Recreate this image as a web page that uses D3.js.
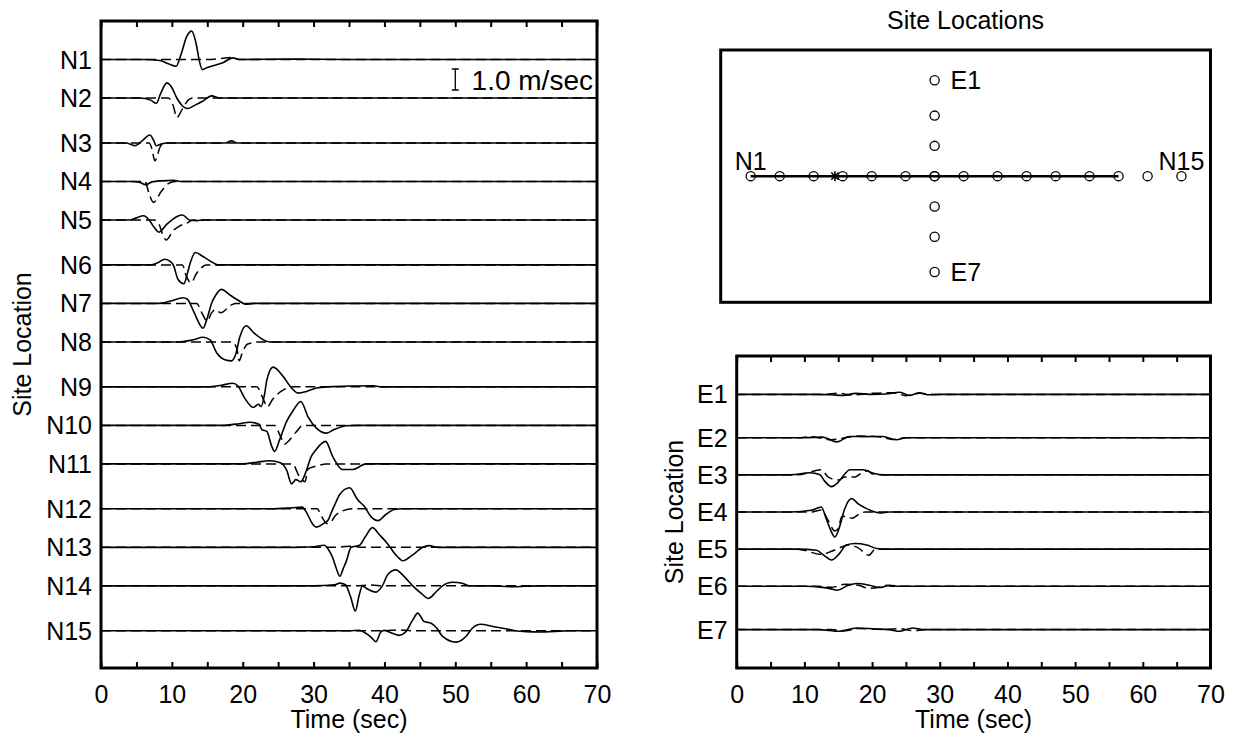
<!DOCTYPE html>
<html>
<head>
<meta charset="utf-8">
<script src="https://cdn.jsdelivr.net/npm/d3@7"></script>
<style>
  html, body { margin: 0; padding: 0; background: #fff; }
  svg { display: block; }
  text { font-family: "Liberation Sans", Arial, Helvetica, sans-serif; fill: #000; }
</style>
</head>
<body>
<svg id="chart" width="1239" height="738"></svg>
<script>
// ---- Sites -------------------------------------------------------------
const nSites = ["N1","N2","N3","N4","N5","N6","N7","N8","N9","N10","N11","N12","N13","N14","N15"];
// distance along the N line (km)
const nSiteKm = [0, 3, 6.5, 9.5, 12.5, 16, 19, 22, 25.5, 28.5, 31.5, 35, 38, 41, 44.5];
const eSites = ["E1","E2","E3","E4","E5","E6","E7"];
// offset of the E line across the N line (km), crossing at N7
const eSiteKm = [9.5, 6, 3, 0, -3, -6, -9.5];
const eLineAtKm = 19;
const epicenterKm = [8.7, 0];
const profileEndKm = 38;

// ---- Axis ticks ------------------------------------------------------------
const timeTickMarks = [0,5,10,15,20,25,30,35,40,45,50,55,60,65,70];
const timeTickLabels = [0,10,20,30,40,50,60,70];
const scaleBarValue = 1.0;   // m/sec

// ---- Velocity records: [time (sec), velocity (m/sec)] -------------------------
const nObserved = [
  [[0,0],[6,0],[8.3,-0.05],[9.5,-0.2],[10.6,-0.32],[11.3,0.25],[12.1,1.1],[12.8,1.35],[13.4,0.8],[13.9,-0.1],[14.3,-0.48],[15,-0.38],[15.8,-0.3],[17.2,-0.15],[18.6,0.08],[19.6,0],[27,0.02],[35,0],[70,0]],
  [[0,0],[5.5,0],[7,-0.1],[7.8,-0.25],[8.4,0.2],[9.3,0.72],[9.9,0.55],[10.7,0],[11.5,-0.38],[12.2,-0.5],[13.2,-0.35],[14.4,-0.14],[15.6,0.1],[16.8,0],[70,0]],
  [[0,0],[3.5,0],[4.8,-0.13],[5.8,0.1],[6.9,0.38],[7.4,0.15],[7.8,-0.13],[8.5,-0.05],[9.3,0],[17.5,0],[18.4,0.1],[19.2,0],[70,0]],
  [[0,0],[4.5,0],[5.5,-0.05],[6.3,-0.15],[7.2,-0.02],[8.5,0.03],[10.2,0.05],[11.5,0],[70,0]],
  [[0,0],[4,0],[5,0.1],[6,0.2],[6.8,0],[7.5,-0.35],[8.2,-0.58],[8.8,-0.4],[9.3,-0.2],[10,0],[10.8,0.18],[11.5,0.24],[12.5,0],[13.5,-0.03],[14.5,0],[70,0]],
  [[0,0],[7,0],[8,0.1],[9,0.27],[9.6,0.2],[10.2,0],[10.9,-0.71],[11.7,-0.9],[12.2,-0.4],[12.6,0.1],[13.3,0.59],[14.4,0.4],[15.8,0.11],[16.5,0],[70,0]],
  [[0,0],[8,0],[9.7,0.1],[11.6,0.27],[12.2,0.2],[13.1,-0.4],[14.4,-1.18],[14.9,-0.8],[15.6,0],[16.2,0.4],[17,0.67],[18.2,0.4],[19.3,0.16],[20.5,-0.04],[21.5,0],[70,0]],
  [[0,0],[11,0],[13,0.1],[14.4,0.22],[15.4,0.1],[16.3,-0.5],[17.6,-0.86],[18.4,-0.9],[19,-0.6],[19.6,0.25],[20.5,0.77],[21.5,0.45],[22.9,0.1],[23.8,0],[70,0]],
  [[0,0],[15,0],[17,0.08],[18.6,0.17],[19.3,0.05],[20.3,-0.55],[21.5,-0.98],[22.2,-0.83],[22.6,-0.94],[23.1,-0.32],[23.4,0.32],[24.3,0.94],[25.7,0.5],[26.9,-0.06],[27.8,-0.3],[29,-0.22],[30.4,-0.05],[31.8,0],[38.4,0.05],[39.5,0],[70,0]],
  [[0,0],[17,0],[19.5,0.08],[21,0.15],[22.3,0.05],[22.7,-0.2],[23.4,-0.29],[24.1,-1.0],[24.5,-1.24],[25.2,-0.69],[26.2,0.19],[27.1,0.7],[28.2,1.14],[29.2,0.42],[30.4,-0.13],[31.8,-0.37],[32.9,-0.2],[34.6,-0.02],[36,0],[70,0]],
  [[0,0],[20,0],[22,0.08],[23.8,0.15],[25.3,0.05],[26.2,-0.3],[26.9,-0.95],[27.5,-0.75],[28.2,-0.85],[28.9,-0.4],[29.6,0.3],[30.4,0.7],[31.7,1.07],[32.7,0.35],[34.1,-0.27],[35.5,-0.27],[37.4,0],[70,0]],
  [[0,0],[24,0],[27,0.05],[28.4,0.08],[29.2,-0.3],[29.9,-0.75],[30.4,-0.87],[31.5,-0.68],[32.1,-0.51],[32.6,-0.1],[33,0.2],[33.7,0.68],[35.1,1.0],[36.2,0.44],[37.2,0.1],[38.1,-0.37],[39.1,-0.56],[40.2,-0.27],[41.4,-0.03],[42.5,0],[70,0]],
  [[0,0],[27,0],[30,0.03],[31.5,0.1],[32.1,-0.1],[32.7,-0.5],[33.2,-1.0],[33.7,-1.38],[34.2,-1.0],[34.6,-0.68],[35.3,0],[36.5,0.1],[37.3,0.5],[38.3,0.94],[39.3,0.6],[40.5,0.15],[41.6,-0.36],[42.6,-0.64],[44,-0.36],[45.4,0],[46.3,0.08],[47.5,0],[70,0]],
  [[0,0],[30,0],[33,0.05],[33.7,0.13],[34.5,0.05],[35.2,-0.5],[35.9,-1.2],[36.4,-0.5],[36.9,0],[37.6,-0.15],[38.8,-0.3],[39.7,0],[40.5,0.55],[41.6,0.76],[42.8,0.44],[44,0],[45.2,-0.36],[46.2,-0.6],[47.3,-0.28],[48.2,0],[49.6,0.17],[51,0.12],[52,0],[55,0],[58,-0.04],[62,0],[70,0]],
  [[0,0],[35,0],[36.5,0.02],[37.5,-0.15],[38.1,-0.3],[38.8,-0.52],[39.5,-0.05],[40,0.02],[41.1,-0.12],[42.1,-0.22],[43,-0.05],[44,0.52],[44.7,0.84],[45.6,0.44],[46.6,0.36],[47.4,0.12],[48.2,-0.27],[50.1,-0.54],[51.5,-0.27],[52.4,0.12],[53.6,0.31],[55.3,0.2],[57.1,0.1],[58.5,0],[60,-0.04],[62,-0.06],[64,-0.03],[66,0],[70,0]]
];

const nSynthetic = [
  [[0,0],[15,0],[17,0.05],[18.5,0.1],[19.5,0],[70,0]],
  [[0,0],[9.5,0],[10.2,-0.37],[10.7,-0.93],[11.4,-0.58],[12.3,-0.1],[13,0],[70,0]],
  [[0,0],[6.8,0],[7.2,-0.3],[7.6,-0.85],[8.4,-0.15],[9,0],[70,0]],
  [[0,0],[6.2,0],[6.8,-0.6],[7.4,-1.0],[8.5,-0.48],[9.5,-0.1],[10.5,0],[70,0]],
  [[0,0],[7.5,0],[8.2,-0.2],[8.6,-0.6],[9.2,-0.95],[10.2,-0.5],[11,-0.3],[12.1,-0.15],[13,0],[70,0]],
  [[0,0],[11.5,0],[12,-0.5],[12.7,-0.85],[13.5,-0.4],[14,-0.2],[14.8,0],[70,0]],
  [[0,0],[13.5,0],[14.3,-0.5],[15,-0.85],[15.6,-0.45],[16.2,-0.3],[16.9,-0.45],[18.4,-0.07],[19,0],[70,0]],
  [[0,0],[18.5,0],[19.2,-0.35],[19.5,-0.9],[19.9,-0.55],[20.7,-0.1],[22.4,0],[70,0]],
  [[0,0],[22,0],[22.8,-0.5],[23.5,-0.95],[24.2,-0.6],[25.4,-0.22],[27.1,0],[70,0]],
  [[0,0],[24.5,0],[25.3,-0.5],[25.9,-0.9],[26.4,-0.77],[27.6,-0.29],[28.5,0],[70,0]],
  [[0,0],[27,0],[28,-0.6],[28.8,-0.85],[29.2,-0.25],[30.5,-0.1],[31.8,0],[70,0]],
  [[0,0],[30.5,0],[31.2,-0.4],[31.9,-0.7],[32.4,-0.65],[33,-0.35],[34.1,-0.1],[35.5,0],[70,0]],
  [[0,0],[33,0],[35,0.05],[37,0],[70,0]],
  [[0,0],[36,0],[38,0.04],[40,0],[70,0]],
  [[0,0],[40,0],[42,0.04],[44,0],[70,0]]
];

const eObserved = [
  [[0,0],[12,0],[14,-0.02],[15.7,-0.05],[17.6,0.05],[20,0],[22,0.02],[24.1,0.1],[25.6,-0.05],[27,0.08],[28.2,-0.02],[30,0],[70,0]],
  [[0,0],[10,0],[12.7,0.03],[14.8,-0.2],[16.7,0.06],[19,0.05],[21.6,0.06],[23.6,-0.1],[25,0],[70,0]],
  [[0,0],[8,0],[10.8,0.1],[12.3,0],[13,-0.3],[14,-0.56],[15,-0.35],[16,0.05],[16.7,0.24],[18.7,0.24],[20.2,0.08],[21.6,0],[70,0]],
  [[0,0],[8,0],[11,0.08],[12.5,0.24],[13.2,-0.3],[13.8,-0.8],[14.5,-1.19],[15.2,-0.7],[15.9,0.1],[17,0.64],[17.9,0.4],[19.2,0.16],[20.4,0],[21.2,-0.05],[22.5,0],[70,0]],
  [[0,0],[9,0],[11.8,-0.05],[12.9,-0.3],[14,-0.52],[15.2,-0.2],[16.2,0.2],[17.5,0.27],[19.2,0.2],[20.7,0.03],[22,0],[70,0]],
  [[0,0],[10,0],[12.6,-0.05],[13.8,-0.11],[14.8,-0.19],[16.5,0.05],[17.7,0.13],[19.6,0.05],[21.1,-0.06],[22.6,0.05],[24,0],[70,0]],
  [[0,0],[12,0],[15.2,-0.08],[17.7,0.08],[20.5,0.03],[22.5,0],[24.1,-0.08],[26,0.08],[27.5,0],[70,0]]
];

const eSynthetic = [
  [[0,0],[13,0],[15,0.05],[17,-0.03],[20,0.05],[23,0.08],[25,-0.06],[27,0.05],[29,0],[70,0]],
  [[0,0],[9,0],[11,0.05],[14,-0.1],[16,0],[18,0.08],[21,0.04],[23,-0.08],[25,0],[70,0]],
  [[0,0],[9,0],[12.5,0.24],[13.5,-0.1],[15,-0.25],[16,-0.1],[17.5,-0.1],[18.5,0.1],[19.3,0.2],[20,0.05],[21,0],[70,0]],
  [[0,0],[11,0],[12.5,0.1],[13.5,-0.4],[14.5,-0.9],[15,-0.79],[15.5,-0.24],[16.2,-0.2],[17,-0.3],[18.2,-0.08],[19,0],[70,0]],
  [[0,0],[9,0],[12.5,-0.25],[14,-0.1],[15.5,0.1],[16.5,0.2],[18,0.05],[19.5,-0.29],[20.5,0],[70,0]],
  [[0,0],[12,0],[14,-0.05],[16,0.1],[18,0.05],[19.5,-0.1],[21,-0.05],[22,0.05],[23,0],[70,0]],
  [[0,0],[14,0],[16,-0.05],[18,0.05],[22,0],[24,0.05],[26,-0.05],[28,0],[70,0]]
];

// ---- Drawing -------------------------------------------------------------------
const svg = d3.select("#chart");
svg.append("rect").attr("width", 1239).attr("height", 738).attr("fill", "#fff");

const FONT = 25;
const amp = d3.scaleLinear().domain([0, 1]).range([0, 21]);   // m/sec -> px

function drawTracePanel(opts) {
  const { x, y, labels, offsets, observed, synthetic, clipId, labelX } = opts;
  const [x0, x1] = x.range();
  const [y0, y1] = y.range();
  const g = svg.append("g");

  svg.append("clipPath").attr("id", clipId)
    .append("rect").attr("x", x0).attr("y", y0).attr("width", x1 - x0).attr("height", y1 - y0);

  const traces = g.append("g").attr("clip-path", `url(#${clipId})`);
  const lineFor = base => d3.line()
    .x(d => x(d[0]))
    .y(d => y(base) - amp(d[1]))
    .curve(d3.curveMonotoneX);

  offsets.forEach((off, i) => {
    traces.append("path")
      .attr("d", lineFor(off)(synthetic[i]))
      .attr("fill", "none").attr("stroke", "#000")
      .attr("stroke-width", 1.5).attr("stroke-dasharray", "10,5");
    traces.append("path")
      .attr("d", lineFor(off)(observed[i]))
      .attr("fill", "none").attr("stroke", "#000")
      .attr("stroke-width", 1.6);
  });

  // bottom axis: ticks pointing inward, labels every 10 s
  const bottom = g.append("g").attr("transform", `translate(0,${y1})`)
    .call(d3.axisBottom(x).tickValues(timeTickMarks)
      .tickFormat(d => timeTickLabels.includes(d) ? d : "")
      .tickSize(-6).tickPadding(17));
  bottom.select(".domain").remove();
  bottom.selectAll("line").attr("stroke", "#000").attr("stroke-width", 2);
  bottom.selectAll("text").attr("font-size", FONT).attr("font-family", null);

  const top = g.append("g").attr("transform", `translate(0,${y0})`)
    .call(d3.axisTop(x).tickValues(timeTickMarks).tickFormat("").tickSize(-6));
  top.select(".domain").remove();
  top.selectAll("line").attr("stroke", "#000").attr("stroke-width", 2);

  // site labels
  const left = g.append("g").attr("transform", `translate(${x0},0)`)
    .call(d3.axisLeft(y).tickValues(offsets).tickFormat((d, i) => labels[i]).tickSize(0).tickPadding(9));
  left.select(".domain").remove();
  left.selectAll("text").attr("font-size", FONT).attr("font-family", null).attr("dy", "0.34em");

  // frame
  g.append("rect").attr("x", x0).attr("y", y0).attr("width", x1 - x0).attr("height", y1 - y0)
    .attr("fill", "none").attr("stroke", "#000").attr("stroke-width", 3);

  g.append("text").attr("x", (x0 + x1) / 2).attr("y", y1 + 60)
    .attr("text-anchor", "middle").attr("font-size", FONT).text("Time (sec)");

  g.append("text")
    .attr("transform", `translate(${labelX},${(y0 + y1) / 2}) rotate(-90)`)
    .attr("text-anchor", "middle").attr("font-size", FONT).text("Site Location");
  return g;
}

// N line records
const xN = d3.scaleLinear().domain([0, 70]).range([101, 597]);
const yN = d3.scaleLinear().domain([-3, 47.4]).range([21, 668]);
const gN = drawTracePanel({
  x: xN, y: yN, labels: nSites, offsets: nSiteKm,
  observed: nObserved, synthetic: nSynthetic, clipId: "clipN", labelX: 31
});

// amplitude scale bar
const barX = xN(50), barTop = yN(0.74), barBot = barTop + amp(scaleBarValue);
gN.append("path")
  .attr("d", `M${barX},${barTop}V${barBot}M${barX - 3.5},${barTop}H${barX + 3.5}M${barX - 3.5},${barBot}H${barX + 3.5}`)
  .attr("stroke", "#000").attr("stroke-width", 1.3).attr("fill", "none");
gN.append("text").attr("x", xN(52.3)).attr("y", barBot)
  .attr("font-size", 28).text(`${scaleBarValue.toFixed(1)} m/sec`);

// E line records
const eOffsets = eSiteKm.map(d => eSiteKm[0] - d);
const xE = d3.scaleLinear().domain([0, 70]).range([736.7, 1210.5]);
const yE = d3.scaleLinear().domain([-3.1, 22.1]).range([356, 668]);
drawTracePanel({
  x: xE, y: yE, labels: eSites, offsets: eOffsets,
  observed: eObserved, synthetic: eSynthetic, clipId: "clipE", labelX: 683
});

// ---- Site map ------------------------------------------------------------------
const xM = d3.scaleLinear().domain([-3.1, 47.5]).range([720.7, 1210.5]);
const yM = d3.scaleLinear().domain([-12.5, 12.5]).range([302.3, 50]);
const gM = svg.append("g");

gM.append("text").attr("x", (xM.range()[0] + xM.range()[1]) / 2).attr("y", 28.5)
  .attr("text-anchor", "middle").attr("font-size", FONT).text("Site Locations");

gM.append("line")
  .attr("x1", xM(0)).attr("x2", xM(profileEndKm)).attr("y1", yM(0)).attr("y2", yM(0))
  .attr("stroke", "#000").attr("stroke-width", 2.5);

const R = 4.6;
gM.selectAll("circle.n").data(nSiteKm).join("circle").attr("class", "n")
  .attr("cx", d => xM(d)).attr("cy", yM(0)).attr("r", R)
  .attr("fill", "none").attr("stroke", "#000").attr("stroke-width", 1.3);
gM.selectAll("circle.e").data(eSiteKm).join("circle").attr("class", "e")
  .attr("cx", xM(eLineAtKm)).attr("cy", d => yM(d)).attr("r", R)
  .attr("fill", "none").attr("stroke", "#000").attr("stroke-width", 1.3);

// epicentre asterisk
const sx = xM(epicenterKm[0]), sy = yM(epicenterKm[1]), s = 5, sd = 3.6;
gM.append("path")
  .attr("d", `M${sx},${sy - s}V${sy + s}M${sx - s},${sy}H${sx + s}M${sx - sd},${sy - sd}L${sx + sd},${sy + sd}M${sx - sd},${sy + sd}L${sx + sd},${sy - sd}`)
  .attr("stroke", "#000").attr("stroke-width", 1.6);

gM.append("text").attr("x", xM(nSiteKm[0]) - 16).attr("y", yM(0) - 6)
  .attr("font-size", FONT).text(nSites[0]);
gM.append("text").attr("x", xM(nSiteKm[nSiteKm.length - 1]) - 23).attr("y", yM(0) - 6)
  .attr("font-size", FONT).text(nSites[nSites.length - 1]);
gM.append("text").attr("x", xM(eLineAtKm) + 16).attr("y", yM(eSiteKm[0])).attr("dy", "0.36em")
  .attr("font-size", FONT).text(eSites[0]);
gM.append("text").attr("x", xM(eLineAtKm) + 16).attr("y", yM(eSiteKm[eSiteKm.length - 1])).attr("dy", "0.36em")
  .attr("font-size", FONT).text(eSites[eSites.length - 1]);

gM.append("rect")
  .attr("x", xM.range()[0]).attr("y", yM.range()[1])
  .attr("width", xM.range()[1] - xM.range()[0]).attr("height", yM.range()[0] - yM.range()[1])
  .attr("fill", "none").attr("stroke", "#000").attr("stroke-width", 3);
</script>
</body>
</html>
